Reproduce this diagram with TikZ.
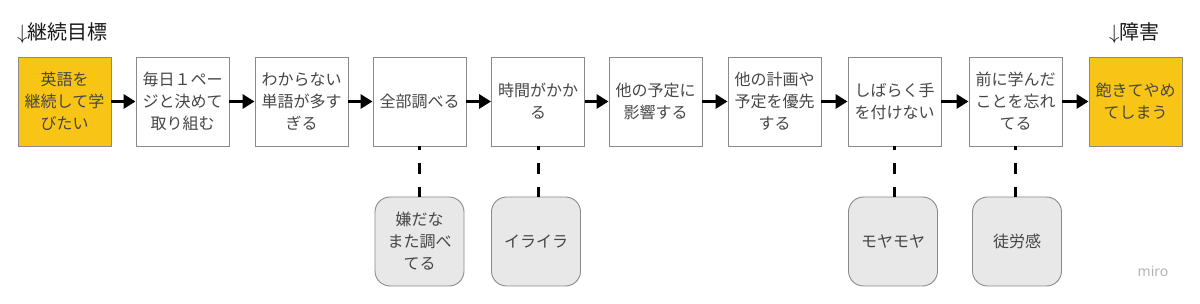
\documentclass[tikz,border=0pt]{standalone}
\usepackage{fontspec}
\setmainfont{Noto Sans CJK JP}
\newfontfamily\latinsans{Noto Sans}
\usetikzlibrary{arrows.meta}
\definecolor{txt}{HTML}{464646}
\definecolor{goal}{HTML}{F8C516}
\definecolor{feel}{HTML}{E8E8E8}
\definecolor{edge}{HTML}{8A8A8A}
\tikzset{
  stepbox/.style={draw=edge, line width=0.9pt, fill=white, minimum width=93pt, minimum height=89pt,
    inner sep=0pt, align=center, text=txt, font=\fontsize{16pt}{22pt}\selectfont},
  goalbox/.style={stepbox, fill=goal},
  feelbox/.style={draw=edge, line width=0.9pt, fill=feel, rounded corners=15pt, minimum width=89pt,
    minimum height=89pt, inner sep=0pt, align=center, text=txt, font=\fontsize{16pt}{22pt}\selectfont},
  flow/.style={line width=3.5pt, -{Triangle[length=12pt,width=14pt]}, black},
  link/.style={line width=3pt, black, dash pattern=on 11pt off 13pt, dash phase=7pt},
  head/.style={anchor=base west, text=black!90, font=\fontsize{20pt}{24pt}\selectfont, inner sep=0pt}
}
\begin{document}
\begin{tikzpicture}[x=1pt,y=-1pt]
\useasboundingbox (0,0) rectangle (1200,304);
\node[head] (h1) at (17,40) {$\downarrow$継続目標};
\node[head] (h2) at (1109,40) {$\downarrow$障害};

\node[goalbox] (b1) at (64.5,101.5) {英語を\\継続して学\\びたい};
\node[stepbox] (b2) at (182.5,101.5) {毎日１ペー\\ジと決めて\\取り組む};
\node[stepbox] (b3) at (301.5,101.5) {わからない\\単語が多す\\ぎる};
\node[stepbox] (b4) at (419.5,101.5) {全部調べる};
\node[stepbox] (b5) at (538,101.5) {時間がかか\\る};
\node[stepbox] (b6) at (655.5,101.5) {他の予定に\\影響する};
\node[stepbox] (b7) at (774.5,101.5) {他の計画や\\予定を優先\\する};
\node[stepbox] (b8) at (894.5,101.5) {しばらく手\\を付けない};
\node[stepbox] (b9) at (1015.5,101.5) {前に学んだ\\ことを忘れ\\てる};
\node[goalbox] (b10) at (1135.5,101.5) {飽きてやめ\\てしまう};

\foreach \a/\b in {b1/b2,b2/b3,b3/b4,b4/b5,b5/b6,b6/b7,b7/b8,b8/b9,b9/b10}
  \draw[flow] (\a.east) -- (\b.west);

\node[feelbox] (f1) at (419.5,241.5) {嫌だな\\また調べ\\てる};
\node[feelbox] (f2) at (536,241.5) {イライラ};
\node[feelbox] (f3) at (893,241.5) {モヤモヤ};
\node[feelbox] (f4) at (1017,241.5) {徒労感};

\draw[link] (b4.south) -- (b4.south |- f1.north);
\draw[link] (b5.south) -- (b5.south |- f2.north);
\draw[link] (b8.south) -- (b8.south |- f3.north);
\draw[link] (b9.south) -- (b9.south |- f4.north);

\node[text=black!30, font=\latinsans\fontsize{14pt}{16pt}\selectfont, inner sep=0pt] (miro) at (1153,271) {miro};
\end{tikzpicture}
\end{document}
